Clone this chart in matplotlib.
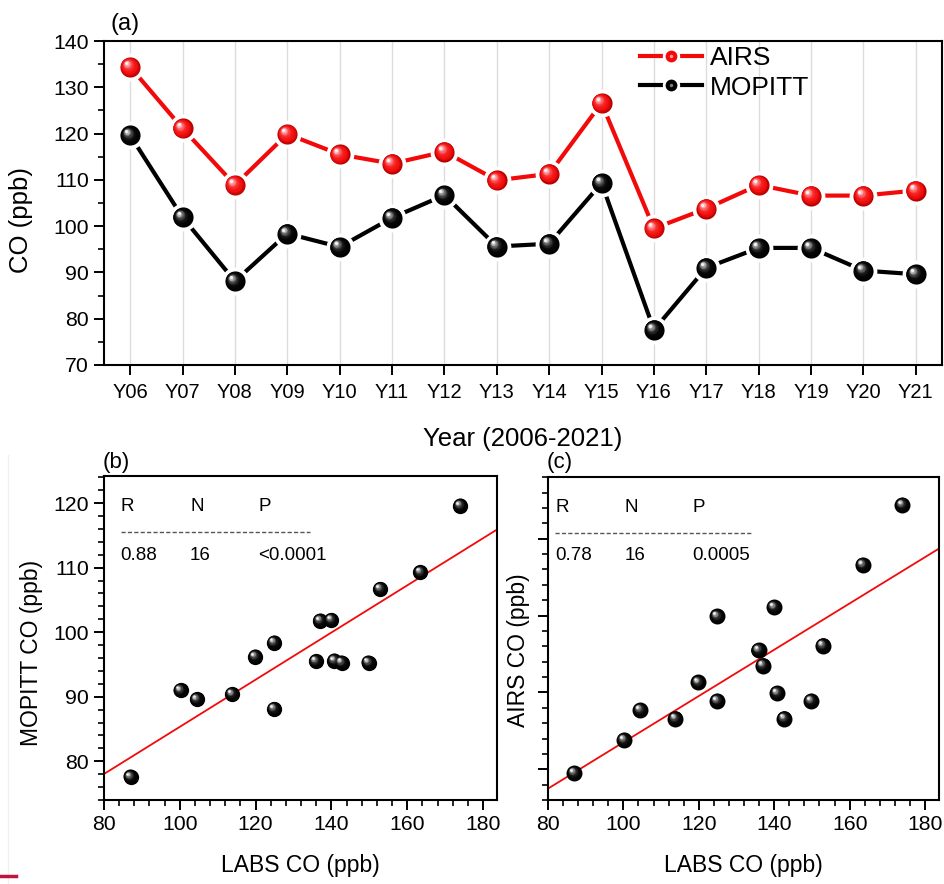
import numpy as np
import matplotlib
matplotlib.use("Agg")
import matplotlib.pyplot as plt
from matplotlib.colors import to_rgb
from matplotlib.transforms import ScaledTranslation
from matplotlib.lines import Line2D
from matplotlib.legend_handler import HandlerTuple
from matplotlib.ticker import MultipleLocator, NullFormatter

plt.rcParams['font.family'] = ['Liberation Sans', 'DejaVu Sans']

# ---------------- data ----------------
years = ["Y06", "Y07", "Y08", "Y09", "Y10", "Y11", "Y12", "Y13",
         "Y14", "Y15", "Y16", "Y17", "Y18", "Y19", "Y20", "Y21"]
airs = [134.4, 121.1, 108.9, 119.9, 115.5, 113.5, 116.1, 109.9,
        111.3, 126.6, 99.5, 103.8, 108.9, 106.6, 106.6, 107.7]
mopitt = [119.6, 101.9, 88.1, 98.4, 95.5, 101.8, 106.7, 95.6,
          96.2, 109.3, 77.6, 91.0, 95.3, 95.3, 90.4, 89.6]
labs = [174.0, 140.0, 124.9, 124.9, 135.9, 137.0, 152.9, 140.8,
        119.9, 163.5, 87.0, 100.2, 149.8, 142.7, 113.8, 104.5]

stats_b = ["0.88", "16", "<0.0001"]
stats_c = ["0.78", "16", "0.0005"]

RED = "#f20a0a"

fig = plt.figure(figsize=(9.44, 8.84), dpi=100)


def sphere(ax, x, y, ms, kind, n=12, z=5):
    if kind == "red":
        dark, base, hi = "#b80000", "#f51010", "#fff0f6"
    else:
        dark, base, hi = "#000000", "#050505", "#f4f4f4"
    dark, base, hi = map(lambda c: np.array(to_rgb(c)), (dark, base, hi))
    for i in range(n):
        t = i / (n - 1)
        s = ms * (1 - 0.85 * t)
        if t < 0.25:
            c = dark + (base - dark) * (t / 0.25)
        else:
            u = (t - 0.25) / 0.75
            c = base + (hi - base) * u ** 2.2
        off = 0.2 * ms * t
        tr = ax.transData + ScaledTranslation(-off / 72, off / 72, fig.dpi_scale_trans)
        ax.plot(x, y, ls="none", marker="o", ms=s, mfc=c, mec="none",
                transform=tr, zorder=z + i * 0.01, clip_on=False)


def style_axes(ax):
    for sp in ax.spines.values():
        sp.set_linewidth(1.5)
    ax.tick_params(which="major", direction="out", length=7, width=1.4,
                   top=False, right=False, labelsize=15.3, pad=4)
    ax.tick_params(which="minor", direction="out", length=4, width=1.2,
                   top=False, right=False)


# ---------------- panel (a) ----------------
axa = fig.add_axes([104 / 944, 1 - 365 / 884, 838 / 944, 324 / 884])
xi = np.arange(len(years))
axa.set_xlim(-0.5, len(years) - 0.5)
axa.set_ylim(70, 140)
axa.set_xticks(xi)
axa.set_xticklabels(years)
axa.yaxis.set_major_locator(MultipleLocator(10))
axa.yaxis.set_minor_locator(MultipleLocator(5))
style_axes(axa)
axa.tick_params(axis="x", labelsize=14.5, pad=6)
axa.grid(axis="x", color="#dcdcdc", lw=1.0, zorder=0)
axa.set_axisbelow(True)

for vals, col, kind in ((airs, RED, "red"), (mopitt, "black", "black")):
    axa.plot(xi, vals, color=col, lw=3.0, zorder=2)
    axa.plot(xi, vals, ls="none", marker="o", ms=20, mfc="white", mec="none", zorder=3)
    sphere(axa, xi, vals, 14.5, kind)

axa.set_ylabel("CO (ppb)", fontsize=18.5)
axa.yaxis.set_label_coords(-0.085, 0.4475)
axa.set_xlabel("Year (2006-2021)", fontsize=18.5, labelpad=18)
axa.text(0.008, 1.02, "(a)", transform=axa.transAxes, fontsize=17, ha="left", va="bottom")

hs = []
for col, hic in ((RED, "#ff9a9a"), ("black", "#7a7a7a")):
    hs.append((Line2D([], [], color=col, lw=3.0),
               Line2D([], [], ls="none", marker="o", ms=12.5, mfc="white", mec="none"),
               Line2D([], [], ls="none", marker="o", ms=8.5, mfc=col, mec="none"),
               Line2D([], [], ls="none", marker="o", ms=2.5, mfc=hic, mec="none")))
axa.legend(hs, ["AIRS", "MOPITT"], handler_map={tuple: HandlerTuple(ndivide=1, pad=0)},
           loc="upper left", bbox_to_anchor=(0.64, 0.985), frameon=False,
           fontsize=19, handlelength=2.35, handletextpad=0.3, labelspacing=0.22,
           borderpad=0, borderaxespad=0)


# ---------------- panels (b) and (c) ----------------
def scatter_panel(rect, yvals, ylim, ylabel, ylab_xy, tag, stats, show_ylabels, txt_x, ms):
    ax = fig.add_axes(rect)
    ax.set_xlim(80, 183.7)
    ax.set_ylim(*ylim)
    ax.xaxis.set_major_locator(MultipleLocator(20))
    ax.xaxis.set_minor_locator(MultipleLocator(4))
    ax.yaxis.set_major_locator(MultipleLocator(10))
    ax.yaxis.set_minor_locator(MultipleLocator(2))
    style_axes(ax)
    if not show_ylabels:
        ax.yaxis.set_major_formatter(NullFormatter())
    x = np.array(labs)
    y = np.array(yvals)
    k, b = np.polyfit(x, y, 1)
    xs = np.array(ax.get_xlim())
    ax.plot(xs, k * xs + b, color=RED, lw=1.3, zorder=2)
    sphere(ax, x, y, ms, "black")
    ax.set_xlabel("LABS CO (ppb)", fontsize=16.5, labelpad=14)
    ax.set_ylabel(ylabel, fontsize=16.5)
    ax.yaxis.set_label_coords(*ylab_xy)
    ax.text(-0.003, 1.01, tag, transform=ax.transAxes, fontsize=16, ha="left", va="bottom")
    x0, x1, x2 = txt_x
    for xx, lab in zip((x0, x1, x2), ("R", "N", "P")):
        ax.text(xx, 0.905, lab, transform=ax.transAxes, fontsize=13.5, ha="left", va="center")
    for xx, lab in zip((x0, x1, x2), stats):
        ax.text(xx, 0.755, lab, transform=ax.transAxes, fontsize=13.5, ha="left", va="center")
    ax.plot([x0, 0.525], [0.826, 0.826], transform=ax.transAxes, color="#555555",
            lw=1.0, ls=(0, (3, 1.6)))
    return ax


axb = scatter_panel([104 / 944, 1 - 800 / 884, 393 / 944, 324 / 884], mopitt, (74, 124.2),
                    "MOPITT CO (ppb)", (-0.155, 0.455), "(b)", stats_b, True,
                    (0.042, 0.219, 0.393), 11)
axc = scatter_panel([548 / 944, 1 - 800 / 884, 391 / 944, 323.5 / 884], airs, (96, 138.1),
                    "AIRS CO (ppb)", (-0.047, 0.463), "(c)", stats_c, False,
                    (0.019, 0.195, 0.369), 11.5)

# scan artefacts at the left border
fig.add_artist(Line2D([8 / 944, 8 / 944], [1 - 455 / 884, 0], color="#f0f0f0", lw=1.0))
fig.add_artist(Line2D([0, 16 / 944], [1 - 876 / 884, 1 - 876 / 884], color="#c0143c", lw=2.5))

fig.savefig("out.png", dpi=100)
